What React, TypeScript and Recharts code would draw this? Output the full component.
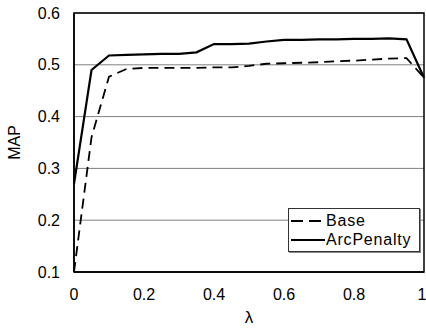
import { LineChart, Line, XAxis, YAxis, CartesianGrid, ReferenceArea } from 'recharts';

// lambda values (x axis)
const lambdas = [0, 0.05, 0.1, 0.15, 0.2, 0.25, 0.3, 0.35, 0.4, 0.45, 0.5, 0.55, 0.6, 0.65, 0.7, 0.75, 0.8, 0.85, 0.9, 0.95, 1];

// MAP for each run
const baseMap = [0.1, 0.36, 0.477, 0.492, 0.494, 0.494, 0.494, 0.494, 0.495, 0.495, 0.498, 0.502, 0.503, 0.504, 0.505, 0.507, 0.508, 0.51, 0.512, 0.513, 0.475];
const arcPenaltyMap = [0.27, 0.49, 0.518, 0.519, 0.52, 0.521, 0.521, 0.524, 0.54, 0.54, 0.541, 0.545, 0.548, 0.548, 0.549, 0.549, 0.55, 0.55, 0.551, 0.549, 0.475];

const xTicks = [0, 0.2, 0.4, 0.6, 0.8, 1];
const yTicks = [0.1, 0.2, 0.3, 0.4, 0.5, 0.6];

const FONT = '"Liberation Sans", Arial, sans-serif';

function LegendBox() {
  return (
    <div
      style={{
        position: 'absolute',
        left: 288,
        top: 208,
        border: '1px solid #333',
        boxShadow: '1px 1px 0 #888',
        background: '#fff',
        width: 128,
        padding: '2px 0 2px 2px',
        fontFamily: FONT,
        fontSize: 16,
        letterSpacing: 0.8,
        color: '#000',
        lineHeight: '19px',
      }}
    >
      <div style={{ display: 'flex', alignItems: 'center' }}>
        <svg width={34} height={4}>
          <line x1={0} y1={2} x2={34} y2={2} stroke="#000" strokeWidth={2} strokeDasharray="12 6" />
        </svg>
        <span style={{ marginLeft: 1 }}>Base</span>
      </div>
      <div style={{ display: 'flex', alignItems: 'center' }}>
        <svg width={34} height={4}>
          <line x1={0} y1={2} x2={34} y2={2} stroke="#000" strokeWidth={2} />
        </svg>
        <span style={{ marginLeft: 1 }}>ArcPenalty</span>
      </div>
    </div>
  );
}

export default function App() {
  const chartData = lambdas.map((l, i) => ({
    lambda: l,
    Base: baseMap[i],
    ArcPenalty: arcPenaltyMap[i],
  }));

  return (
    <div style={{ position: 'absolute', left: 0, top: 0, width: 426, height: 329, background: '#fff' }}>
      <LineChart width={426} height={329} data={chartData} margin={{ top: 13, right: 2, bottom: 0, left: 0 }}>
        <CartesianGrid horizontal vertical={false} stroke="#808080" strokeWidth={1} />
        <XAxis
          dataKey="lambda"
          type="number"
          domain={[0, 1]}
          ticks={xTicks}
          tickFormatter={(v) => String(v)}
          height={57}
          axisLine={{ stroke: '#000', strokeWidth: 1.5 }}
          tickLine={false}
          tickSize={0}
          tickMargin={17}
          tick={{ fill: '#000', fontSize: 16, fontFamily: FONT }}
          label={{ value: 'λ', position: 'insideBottom', offset: 6, fill: '#000', fontSize: 17, fontFamily: FONT }}
        />
        <YAxis
          type="number"
          domain={[0.1, 0.6]}
          ticks={yTicks}
          tickFormatter={(v) => v.toFixed(1)}
          width={74}
          axisLine={{ stroke: '#000', strokeWidth: 1.5 }}
          tickLine={false}
          tickSize={0}
          tickMargin={14}
          tick={{ fill: '#000', fontSize: 16, fontFamily: FONT }}
          label={{ value: 'MAP', angle: -90, position: 'insideLeft', offset: 14, fill: '#000', fontSize: 16, fontFamily: FONT, style: { textAnchor: 'middle' } }}
        />
        <ReferenceArea x1={0} x2={1} y1={0.1} y2={0.6} fill="none" stroke="#000" strokeWidth={1.5} />
        <Line
          type="linear"
          dataKey="Base"
          stroke="#000"
          strokeWidth={1.8}
          strokeDasharray="10 6"
          dot={false}
          isAnimationActive={false}
        />
        <Line
          type="linear"
          dataKey="ArcPenalty"
          stroke="#000"
          strokeWidth={2.2}
          dot={false}
          isAnimationActive={false}
        />
      </LineChart>
      <LegendBox />
    </div>
  );
}
